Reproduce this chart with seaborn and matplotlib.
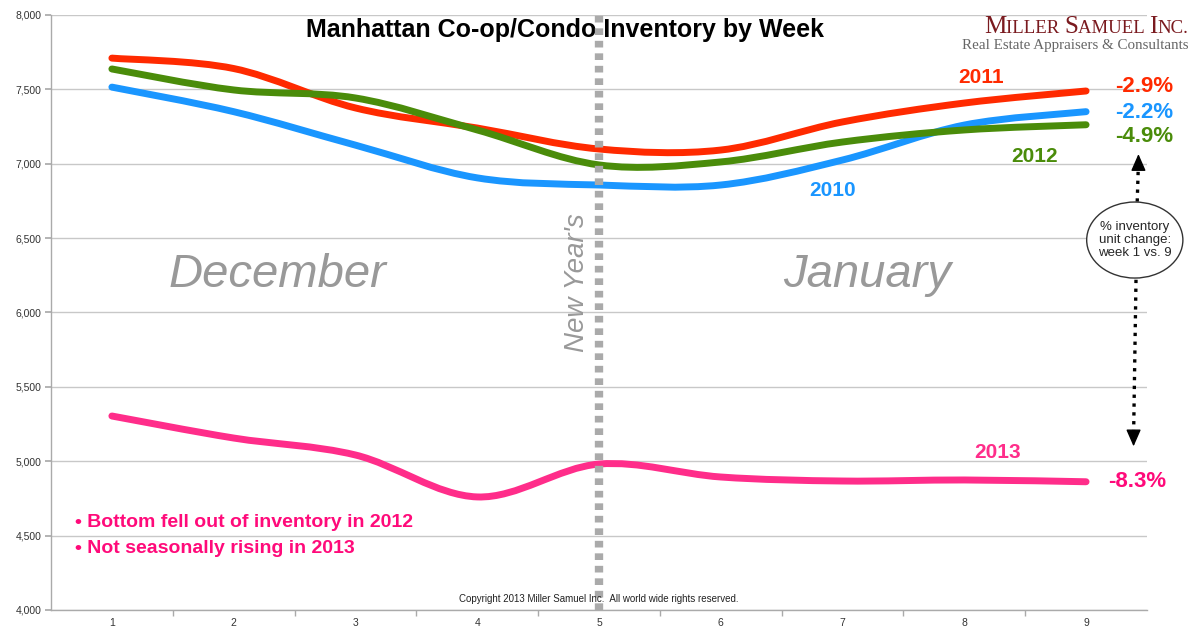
import matplotlib
matplotlib.use("Agg")
import matplotlib.pyplot as plt
import numpy as np
import pandas as pd
import seaborn as sns
from matplotlib.path import Path
from matplotlib.patches import PathPatch, Ellipse
from matplotlib.offsetbox import TextArea, HPacker, VPacker, AnnotationBbox

weeks = [1, 2, 3, 4, 5, 6, 7, 8, 9]
inv_2010 = [7515, 7350, 7125, 6905, 6857, 6857, 7025, 7260, 7350]
inv_2011 = [7710, 7640, 7375, 7240, 7099, 7092, 7281, 7408, 7489]
inv_2012 = [7637, 7496, 7442, 7227, 6992, 7012, 7146, 7227, 7262]
inv_2013 = [5304, 5156, 5042, 4760, 4981, 4894, 4867, 4874, 4862]

years = ["2010", "2011", "2012", "2013"]
pct_labels = ["-2.2%", "-2.9%", "-4.9%", "-8.3%"]
colors = {"2010": "#1a96ff", "2011": "#ff2a00", "2012": "#4a8c0a", "2013": "#ff2d8a"}
pink_text = "#ff0a7a"

df = pd.DataFrame({"week": weeks * 4,
                   "units": inv_2010 + inv_2011 + inv_2012 + inv_2013,
                   "year": np.repeat(years, len(weeks))})

sns.set_theme(style="white")
plt.rcParams["font.family"] = ["Liberation Sans", "DejaVu Sans"]

fig = plt.figure(figsize=(12, 6.4), dpi=100)
ax = fig.add_axes([0.0425, 0.0469, 0.9133, 0.9297])


def smooth_path(x, y):
    # Catmull-Rom through the points, expressed as cubic bezier segments
    x = np.asarray(x, float)
    y = np.asarray(y, float)
    px = np.concatenate([[x[0]], x, [x[-1]]])
    py = np.concatenate([[y[0]], y, [y[-1]]])
    verts = [(x[0], y[0])]
    codes = [Path.MOVETO]
    for i in range(1, len(px) - 2):
        c1 = (px[i] + (px[i + 1] - px[i - 1]) / 6, py[i] + (py[i + 1] - py[i - 1]) / 6)
        c2 = (px[i + 1] - (px[i + 2] - px[i]) / 6, py[i + 1] - (py[i + 2] - py[i]) / 6)
        verts += [c1, c2, (px[i + 1], py[i + 1])]
        codes += [Path.CURVE4] * 3
    return Path(verts, codes)


for yr in years:
    sub = df[df["year"] == yr]
    ax.add_patch(PathPatch(smooth_path(sub["week"], sub["units"]), fill=False,
                           edgecolor=colors[yr], lw=5, capstyle="round", zorder=4))

ax.set_xlim(0.5, 9.5)
ax.set_ylim(4000, 8000)
ax.set_yticks(np.arange(4000, 8001, 500))
ax.set_yticklabels([f"{v:,}" for v in range(4000, 8001, 500)], fontsize=7.5, color="#333333")
ax.set_xticks(weeks)
ax.set_xticklabels(weeks, fontsize=7.5, color="#333333")
ax.set_xticks(np.arange(1.5, 9.5, 1), minor=True)
ax.tick_params(axis="x", which="major", length=0, pad=6)
ax.tick_params(axis="x", which="minor", length=4, color="#aaaaaa", bottom=True)
ax.tick_params(axis="y", length=4, color="#aaaaaa", left=True, pad=3)
ax.yaxis.grid(True, color="#c8c8c8", lw=1)
ax.set_axisbelow(True)
sns.despine(ax=ax, top=True, right=True)
for s in ["left", "bottom"]:
    ax.spines[s].set_color("#aaaaaa")
    ax.spines[s].set_linewidth(1)

# New Year's divider
ax.axvline(5, ymin=0, ymax=1.0, color="#aaaaaa", lw=6, ls=(0, (0.8, 0.7)), zorder=5,
           clip_on=False)
ax.text(4.82, 6200, "New Year's", rotation=90, fontsize=20, style="italic",
        color="#999999", ha="center", va="center")
ax.text(2.36, 6252, "December", fontsize=34, style="italic", color="#999999",
        ha="center", va="center")
ax.text(7.2, 6252, "January", fontsize=34, style="italic", color="#999999",
        ha="center", va="center")

ax.text(0.471, 0.953, "Manhattan Co-op/Condo Inventory by Week", transform=fig.transFigure,
        fontsize=18, fontweight="bold", color="black", ha="center", va="center")

# year labels
year_pos = {"2011": (8.14, 7580), "2010": (6.92, 6820), "2012": (8.58, 7050), "2013": (8.27, 5060)}
for yr, (xx, yy) in year_pos.items():
    ax.text(xx, yy, yr, color=colors[yr], fontsize=15, fontweight="bold", ha="center",
            va="center")

pct_y = {"2011": 7520, "2010": 7345, "2012": 7185, "2013": 4862}
pct_x = {"2011": 9.48, "2010": 9.48, "2012": 9.48, "2013": 9.42}
for yr, lab in zip(years, pct_labels):
    ax.text(pct_x[yr], pct_y[yr], lab, color=colors[yr] if yr != "2013" else pink_text,
            fontsize=16, fontweight="bold", ha="center", va="center", clip_on=False)

ax.text(0.7, 4590, "\u2022 Bottom fell out of inventory in 2012", color=pink_text,
        fontsize=14, fontweight="bold", ha="left", va="center")
ax.text(0.7, 4415, "\u2022 Not seasonally rising in 2013", color=pink_text,
        fontsize=14, fontweight="bold", ha="left", va="center")

ax.text(5.0, 4075, "Copyright 2013 Miller Samuel Inc.  All world wide rights reserved.",
        fontsize=7, color="#222222", ha="center", va="center", zorder=6)

# callout ellipse with dotted arrows
ax.add_patch(Ellipse((9.4, 6487), 0.79, 511, facecolor="white", edgecolor="#333333",
                     lw=1, clip_on=False, zorder=6))
ax.text(9.4, 6487, "% inventory\nunit change:\nweek 1 vs. 9", fontsize=9.5,
        ha="center", va="center", linespacing=1.15, zorder=7, clip_on=False)
head = dict(arrowstyle="-|>,head_length=0.8,head_width=0.35", lw=1, color="black",
            mutation_scale=13, shrinkA=0, shrinkB=0)
# upper arrow
ax.plot([9.42, 9.43], [6745, 7010], ls=":", lw=2.4, color="black", clip_on=False)
ax.annotate("", xy=(9.43, 7065), xytext=(9.43, 7010), annotation_clip=False, arrowprops=head)
# lower arrow
ax.plot([9.41, 9.39], [6220, 5160], ls=":", lw=2.4, color="black", clip_on=False)
ax.annotate("", xy=(9.39, 5100), xytext=(9.39, 5160), annotation_clip=False, arrowprops=head)

# logo, small caps
logo_red = "#7a1a1f"
serif = ["Liberation Serif", "DejaVu Serif"]
parts = []
for word in ["Miller", "Samuel", "Inc."]:
    parts.append(TextArea(word[0], textprops=dict(fontsize=18, color=logo_red, family=serif)))
    tail = word[1:].upper() + (" " if word != "Inc." else "")
    parts.append(TextArea(tail, textprops=dict(fontsize=13.5, color=logo_red, family=serif)))
line1 = HPacker(children=parts, align="baseline", pad=0, sep=0)
line2 = TextArea("Real Estate Appraisers & Consultants",
                 textprops=dict(fontsize=10.8, color="#666666", family=serif))
logo = VPacker(children=[line1, line2], align="right", pad=0, sep=1)
fig.add_artist(AnnotationBbox(logo, (0.99, 0.975), xycoords="figure fraction",
                              box_alignment=(1, 1), frameon=False))

fig.savefig("out.png", dpi=100)
